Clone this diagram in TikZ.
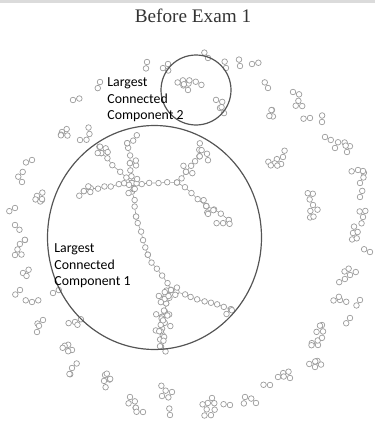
\documentclass[tikz,border=0pt]{standalone}
\usepackage{fontspec}
\setmainfont{Liberation Serif}
\newfontfamily\lblfont{Carlito}
\usetikzlibrary{calc}
\definecolor{ringc}{HTML}{555555}
\definecolor{dotc}{HTML}{9C9C9C}

\tikzset{dot/.style={circle,draw=dotc,fill=white,line width=.35pt,inner sep=0pt,minimum size=2.8pt},
  link/.style={dotc,line width=.3pt},
  lbl/.style={font=\lblfont\fontsize{6.9}{8.4}\selectfont,align=left,anchor=north west,inner sep=0pt}}

% random little tree hanging off g1
\newcommand\grow[1]{%
  \foreach \k in {2,...,#1}{%
    \pgfmathtruncatemacro\gpar{random(1,\k-1)}%
    \pgfmathsetmacro\gang{random(0,359)}%
    \node[dot] (g\k) at ([shift={(\gang:6.5)}]g\gpar.center) {};
    \draw[link] (g\gpar) -- (g\k);
  }}
\newcommand\grp[3]{\node[dot] (g1) at (#1,#2) {};\grow{#3}}
\newcommand\bush[2]{\node[dot] (g1) at (#1.center) {};\grow{#2}}
% straight run of nodes from a node to a point
\newcommand\chain[4]{%
  \node[dot] (#40) at (#1.center) {};
  \foreach \k [remember=\k as \j (initially 0)] in {1,...,#3}{%
    \node[dot] (#4\k) at ($(#1.center)!{\k/#3}!(#2)+(rand*1.2,rand*1.2)$) {};
    \draw[link] (#4\j) -- (#4\k);
  }}

\begin{document}
\begin{tikzpicture}[x=.5pt,y=-.5pt]
\useasboundingbox (0,0) rectangle (375,423);
\pgfmathsetseed{42}
\fill[black!14] (0,0) rectangle (375,2.5);
\node[font=\fontsize{9.6}{11}\selectfont,text=black!80] (title) at (193,16) {Before Exam 1};
% component 1
\node[dot] (hub) at (132,183) {};
\chain{hub}{128,142}{6}{u}
\chain{hub}{101,153}{5}{ul}
\chain{hub}{84,190}{7}{l}
\chain{hub}{177,183}{5}{r}
\chain{r5}{199,156}{5}{ru}
\chain{r5}{206,205}{4}{rd}
\chain{rd4}{228,219}{3}{rr}
\chain{hub}{136,216}{4}{d}
\chain{d4}{149,255}{5}{dd}
\chain{dd5}{171,291}{5}{dn}
\chain{dn5}{230,309}{9}{lr}
\chain{dn5}{162,318}{4}{ld}
\chain{ld4}{160,346}{4}{lb}
\bush{ul5}{6} \bush{l7}{4} \bush{hub}{7} \bush{ru5}{7} \bush{rd4}{5}
\bush{rr3}{4} \bush{lr9}{3} \bush{ld4}{9} \bush{lb2}{7} \bush{ld2}{6}
\bush{dn5}{5} \bush{u6}{3} \bush{lb4}{4} \bush{u3}{3} \bush{ru2}{3}
% component 2
\grp{188}{90}{9} \grp{220}{108}{5} \grp{168}{64}{3} \grp{208}{58}{2}
% the rest
\foreach \cx/\cy/\cn in {147/62/2,226/68/2,240/66/2,252/64/2,268/88/2,293/92/5,272/110/4,
  100/82/2,73/100/2,310/118/2,322/122/2,325/137/2,335/148/2,347/152/4,358/170/3,
  360/183/3,360/197/2,363/217/4,353/233/5,370/252/2,283/157/8,313/205/8,
  62/132/5,80/140/4,32/160/2,22/182/3,42/200/6,15/208/2,15/225/2,25/240/3,15/255/3,
  23/273/3,20/290/2,53/293/2,32/302/3,43/320/2,37/332/2,75/322/4,72/350/5,72/368/4,
  105/375/6,130/397/5,143/412/2,172/392/5,170/415/2,212/398/8,230/405/2,245/397/2,
  256/403/2,270/385/2,278/377/2,290/378/3,315/367/5,318/345/4,322/325/5,350/318/2,
  340/300/4,360/300/2,350/275/6}{\grp{\cx}{\cy}{\cn}}
% circles
\draw[ringc,line width=.6pt] (154.5,237.5) ellipse [x radius=107,y radius=112];
\draw[ringc,line width=.6pt] (196,90) circle [radius=35];
\node[lbl] (lcc2) at (107,77) {Largest\\Connected\\Component 2};
\node[lbl] (lcc1) at (54,243) {Largest\\Connected\\Component 1};
\end{tikzpicture}
\end{document}
